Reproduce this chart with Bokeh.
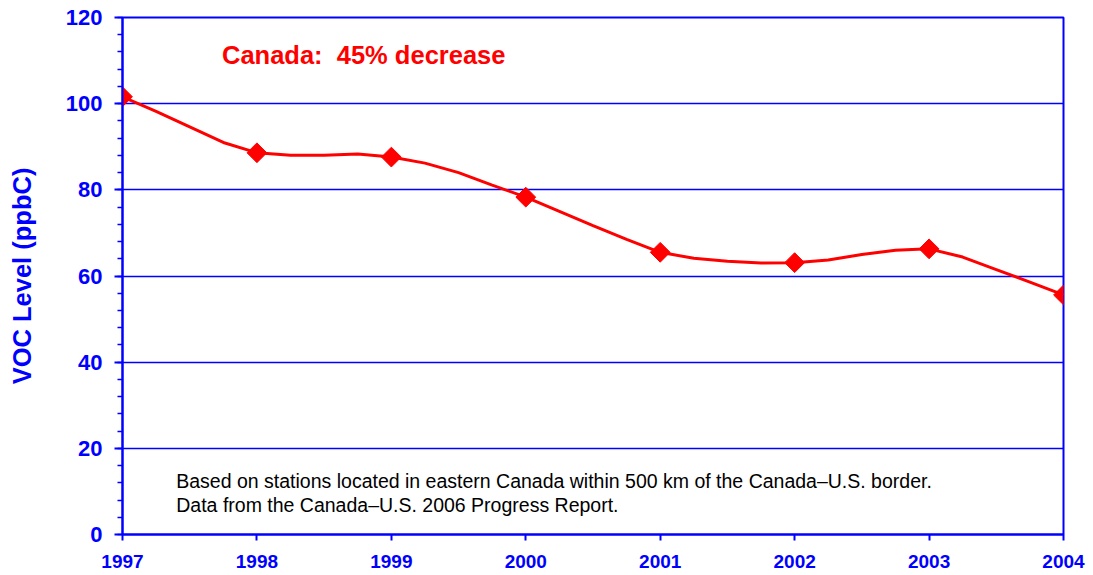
from bokeh.plotting import figure
from bokeh.models import Label, SingleIntervalTicker, FixedTicker, Range1d
from bokeh.embed import file_html
from bokeh.resources import INLINE
import math

# Annual values (markers)
years = [1997, 1998, 1999, 2000, 2001, 2002, 2003, 2004]
voc_annual = [101.6, 88.6, 87.6, 78.3, 65.5, 63.1, 66.3, 55.6]

# Quarterly values (line)
quarters = [1997.00, 1997.25, 1997.50, 1997.75,
            1998.00, 1998.25, 1998.50, 1998.75,
            1999.00, 1999.25, 1999.50, 1999.75,
            2000.00, 2000.25, 2000.50, 2000.75,
            2001.00, 2001.25, 2001.50, 2001.75,
            2002.00, 2002.25, 2002.50, 2002.75,
            2003.00, 2003.25, 2003.50, 2003.75,
            2004.00]
voc_quarterly = [101.6, 98.2, 94.6, 91.0,
                 88.6, 88.0, 88.0, 88.3,
                 87.6, 86.2, 84.0, 81.1,
                 78.3, 75.0, 71.7, 68.5,
                 65.5, 64.1, 63.4, 63.0,
                 63.1, 63.7, 65.0, 66.0,
                 66.3, 64.4, 61.5, 58.6,
                 55.6]

y_ticks = [0, 20, 40, 60, 80, 100, 120]

title_text = "Canada: \u00a045% decrease"
note_lines = ["Based on stations located in eastern Canada within 500 km of the Canada\u2013U.S. border.",
              "Data from the Canada\u2013U.S. 2006 Progress Report."]

BLUE = "#0000FF"
RED = "#FF0000"
FONT = "Liberation Sans"

p = figure(width=1093, height=575, output_backend="svg", toolbar_location=None,
           x_range=Range1d(1997, 2004), y_range=Range1d(0, 120),
           min_border_left=122, min_border_right=30, min_border_top=17, min_border_bottom=41)

p.background_fill_color = "white"
p.border_fill_color = "white"
p.outline_line_color = BLUE
p.outline_line_width = 2

# grids
p.xgrid.visible = False
p.ygrid.grid_line_color = BLUE
p.ygrid.grid_line_width = 1.4
p.ygrid.ticker = FixedTicker(ticks=y_ticks)

# x axis
p.xaxis.ticker = FixedTicker(ticks=years)
p.xaxis.axis_line_color = BLUE
p.xaxis.axis_line_width = 2
p.xaxis.major_tick_line_color = BLUE
p.xaxis.major_tick_line_width = 2
p.xaxis.major_tick_out = 6
p.xaxis.major_tick_in = 0
p.xaxis.minor_tick_line_color = None
p.xaxis.major_label_text_color = BLUE
p.xaxis.major_label_text_font = FONT
p.xaxis.major_label_text_font_style = "bold"
p.xaxis.major_label_text_font_size = "19px"
p.xaxis.major_label_standoff = 14

# y axis
p.yaxis.ticker = SingleIntervalTicker(interval=20, num_minor_ticks=5)
p.yaxis.axis_line_color = BLUE
p.yaxis.axis_line_width = 2
p.yaxis.major_tick_line_color = BLUE
p.yaxis.major_tick_line_width = 2
p.yaxis.major_tick_out = 8
p.yaxis.major_tick_in = 0
p.yaxis.minor_tick_line_color = BLUE
p.yaxis.minor_tick_line_width = 1.5
p.yaxis.minor_tick_out = 5
p.yaxis.minor_tick_in = 0
p.yaxis.major_label_text_color = BLUE
p.yaxis.major_label_text_font = FONT
p.yaxis.major_label_text_font_style = "bold"
p.yaxis.major_label_text_font_size = "22px"
p.yaxis.major_label_standoff = 12
p.yaxis.axis_label = "VOC Level (ppbC)"
p.yaxis.axis_label_text_color = BLUE
p.yaxis.axis_label_text_font = FONT
p.yaxis.axis_label_text_font_style = "bold"
p.yaxis.axis_label_text_font_size = "25.5px"
p.yaxis.axis_label_standoff = 27

# data
p.line(quarters, voc_quarterly, line_color=RED, line_width=3)
p.scatter(years, voc_annual, marker="square", size=14, angle=math.pi / 4,
          fill_color=RED, line_color=RED)

# annotations
p.add_layout(Label(x=1997.74, y=111.2, text=title_text, text_color=RED,
                   text_font=FONT, text_font_style="bold", text_font_size="25.5px",
                   text_baseline="middle", text_align="left"))
p.add_layout(Label(x=1997.40, y=12.4, text=note_lines[0], text_color="black",
                   text_font=FONT, text_font_size="19.5px",
                   text_baseline="middle", text_align="left"))
p.add_layout(Label(x=1997.40, y=6.8, text=note_lines[1], text_color="black",
                   text_font=FONT, text_font_size="19.5px",
                   text_baseline="middle", text_align="left"))

open("out.html", "w").write(file_html(p, INLINE))
